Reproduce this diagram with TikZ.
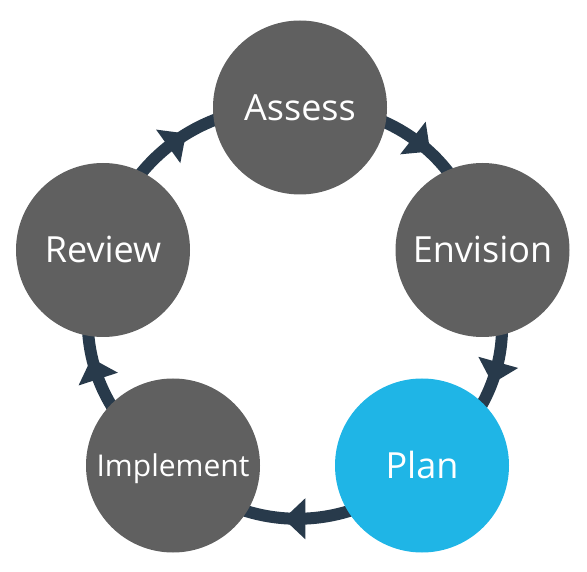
\documentclass[tikz,border=0pt]{standalone}
\usepackage{fontspec}
\setmainfont{Open Sans}
\usetikzlibrary{arrows.meta,decorations.markings,backgrounds}

\definecolor{stepgrey}{HTML}{606060}
\definecolor{stepblue}{HTML}{1FB5E6}
\definecolor{ringnavy}{HTML}{283A4B}

\tikzset{
  phase/.style={circle, fill=stepgrey, text=white, minimum size=174pt, inner sep=0pt,
    text height=26pt, text depth=0pt, font=\fontsize{36}{40}\selectfont},
  ring/.style={draw=ringnavy, line width=12pt, postaction={decorate},
    decoration={markings, mark=at position 0.5 with
      {\pgftransformxshift{14pt}\arrow{Triangle[length=22pt,width=40pt]}}}}
}

\begin{document}
\begin{tikzpicture}[x=1pt,y=1pt]
    \useasboundingbox (0,0) rectangle (587,571);

    % Place the five phases round the cycle
    \node[phase] (assess) at (300,463.5) {Assess};
    \node[phase] (envision) at (482.5,321) {Envision};
    \node[phase, fill=stepblue] (plan) at (422,105.5) {Plan};
    \node[phase, text height=21.5pt, font=\fontsize{30}{34}\selectfont] (implement) at (173,105.5) {Implement};
    \node[phase] (review) at (103,321) {Review};

    % Draw the ring behind the circles, clockwise
    \begin{scope}[on background layer]
        \draw[ring] (assess.center) to[bend left=42] (envision.center);
        \draw[ring] (envision.center) to[bend left=44] (plan.center);
        \draw[ring] (plan.center) to[bend left=47] (implement.center);
        \draw[ring] (implement.center) to[bend left=42] (review.center);
        \draw[ring] (review.center) to[bend left=40] (assess.center);
    \end{scope}
\end{tikzpicture}
\end{document}
